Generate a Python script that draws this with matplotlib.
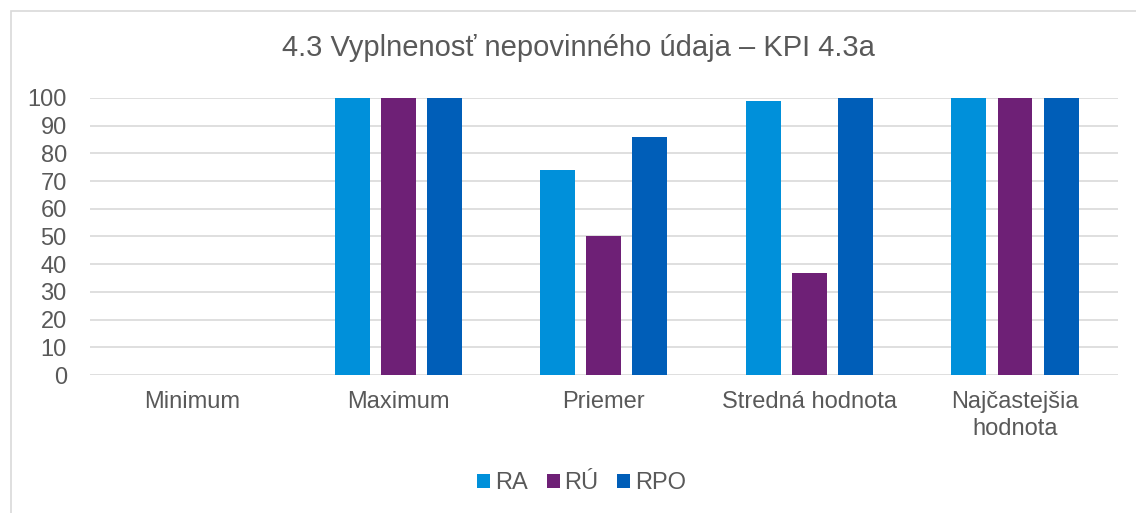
import numpy as np
import matplotlib.pyplot as plt
from matplotlib.patches import Rectangle

plt.rcParams['font.family'] = ['Liberation Sans', 'DejaVu Sans']

categories = ["Minimum", "Maximum", "Priemer", "Stredná hodnota", "Najčastejšia\nhodnota"]
series = ["RA", "RÚ", "RPO"]
ra = [0, 100, 74, 99, 100]
ru = [0, 100, 50, 37, 100]
rpo = [0, 100, 86, 100, 100]
colors = ["#0090DA", "#6E2076", "#005EB8"]
yticks = list(range(0, 101, 10))

fig = plt.figure(figsize=(11.36, 5.13), dpi=100)
ax = fig.add_axes([0.079, 0.269, 0.905, 0.540])

x = np.arange(len(categories))
off = 0.224
w = 0.17
for i, (vals, name) in enumerate(zip([ra, ru, rpo], series)):
    ax.bar(x + (i - 1) * off, vals, width=w, color=colors[i], label=name, zorder=3)

ax.set_xlim(-0.5, len(categories) - 0.5)
ax.set_ylim(0, 100)
ax.set_yticks(yticks)
ax.yaxis.grid(True, color="#D9D9D9", linewidth=1.2, zorder=0)
ax.set_xticks(x)
ax.set_xticklabels(categories, linespacing=1.27)
ax.tick_params(axis="both", length=0, labelsize=17, colors="#595959")
ax.tick_params(axis="y", pad=16.5)
ax.tick_params(axis="x", pad=11.5)
for s in ax.spines.values():
    s.set_visible(False)

fig.text(0.509, 0.906, "4.3 Vyplnenosť nepovinného údaja – KPI 4.3a",
         ha="center", va="center", fontsize=21, color="#595959")

leg = fig.legend(loc="center", bbox_to_anchor=(0.512, 0.058), ncol=3, frameon=False,
                 fontsize=17, handlelength=0.55, handleheight=0.55, handletextpad=0.2,
                 columnspacing=0.8)
for t in leg.get_texts():
    t.set_color("#595959")

fig.patches.append(Rectangle((0.0097, -0.01), 1.0, 0.989, transform=fig.transFigure,
                             fill=False, edgecolor="#D9D9D9", linewidth=1.2))

fig.savefig("out.png", dpi=100)
